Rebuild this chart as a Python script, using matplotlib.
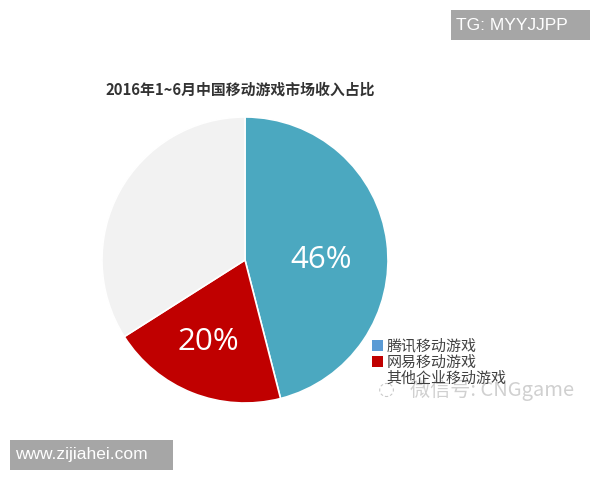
import matplotlib
matplotlib.use("Agg")
import matplotlib.pyplot as plt
from matplotlib.patches import Rectangle, Patch

plt.rcParams['font.family'] = ['Noto Sans CJK SC', 'DejaVu Sans']

title = "2016年1~6月中国移动游戏市场收入占比"
categories = ["腾讯移动游戏", "网易移动游戏", "其他企业移动游戏"]
shares = [46, 20, 34]
pie_colors = ["#4BA8C0", "#C00000", "#F2F2F2"]
legend_colors = ["#5B9BD5", "#C00000", "#FFFFFF"]
show_pct = [True, True, False]
# label positions in pie-radius units
pct_pos = [(0.53, 0.0), (-0.26, -0.57), (0.0, 0.0)]

W, H = 600, 480
fig = plt.figure(figsize=(6, 4.8), dpi=100)
fig.patch.set_facecolor("white")

# pie axes: centre (245,260) px, radius 143 px
cx, cy, r = 245, 260, 143
ax = fig.add_axes([(cx - r) / W, 1 - (cy + r) / H, 2 * r / W, 2 * r / H])
wedges, texts, autotexts = ax.pie(
    shares, colors=pie_colors, startangle=90, counterclock=False,
    autopct=lambda p: f"{p:.0f}%", pctdistance=0.58,
    wedgeprops=dict(edgecolor="white", linewidth=1.2),
    textprops=dict(color="white", fontsize=22.5, family=["Open Sans", "DejaVu Sans"]),
)
for t, s, p in zip(autotexts, show_pct, pct_pos):
    if not s:
        t.set_text("")
    else:
        t.set_position(p)
ax.set_xlim(-1.0, 1.0)
ax.set_ylim(-1.0, 1.0)
ax.set_aspect("equal")
ax.axis("off")

# title
fig.text(105 / W, 1 - 90 / H, title, fontsize=10.7, fontweight="bold",
         color="#333333", ha="left", va="center")

# legend
handles = [Patch(facecolor=c, edgecolor="none") for c in legend_colors]
leg = fig.legend(handles, categories, loc="upper left",
                 bbox_to_anchor=(372 / W, 1 - 339 / H), frameon=False,
                 fontsize=10.8, handlelength=0.72, handleheight=0.72,
                 handletextpad=0.25, labelspacing=0.12, borderaxespad=0,
                 borderpad=0)
for t in leg.get_texts():
    t.set_color("#404040")

# wechat watermark
fig.text(410 / W, 1 - 390 / H, "微信号: CNGgame", fontsize=14.5, color="#C8C8C8",
         ha="left", va="center", alpha=0.85)
fig.text(386 / W, 1 - 389 / H, "◌", fontsize=14, color="#C8C8C8",
         ha="center", va="center", family=["DejaVu Sans"])

# TG box
fig.patches.append(Rectangle((451 / W, 1 - 40 / H), 139 / W, 30 / H,
                             transform=fig.transFigure, facecolor="#A6A6A6",
                             edgecolor="none"))
fig.text(456 / W, 1 - 25 / H, "TG: MYYJJPP", fontsize=12.5, color="white",
         ha="left", va="center", family=["Liberation Sans", "DejaVu Sans"])

# www box
fig.patches.append(Rectangle((10 / W, 1 - 470 / H), 163 / W, 30 / H,
                             transform=fig.transFigure, facecolor="#A6A6A6",
                             edgecolor="none"))
fig.text(15 / W, 1 - 455 / H, "www.zijiahei.com", fontsize=12.5, color="white",
         ha="left", va="center", family=["Liberation Sans", "DejaVu Sans"])

fig.savefig("out.png", dpi=100, facecolor="white")
